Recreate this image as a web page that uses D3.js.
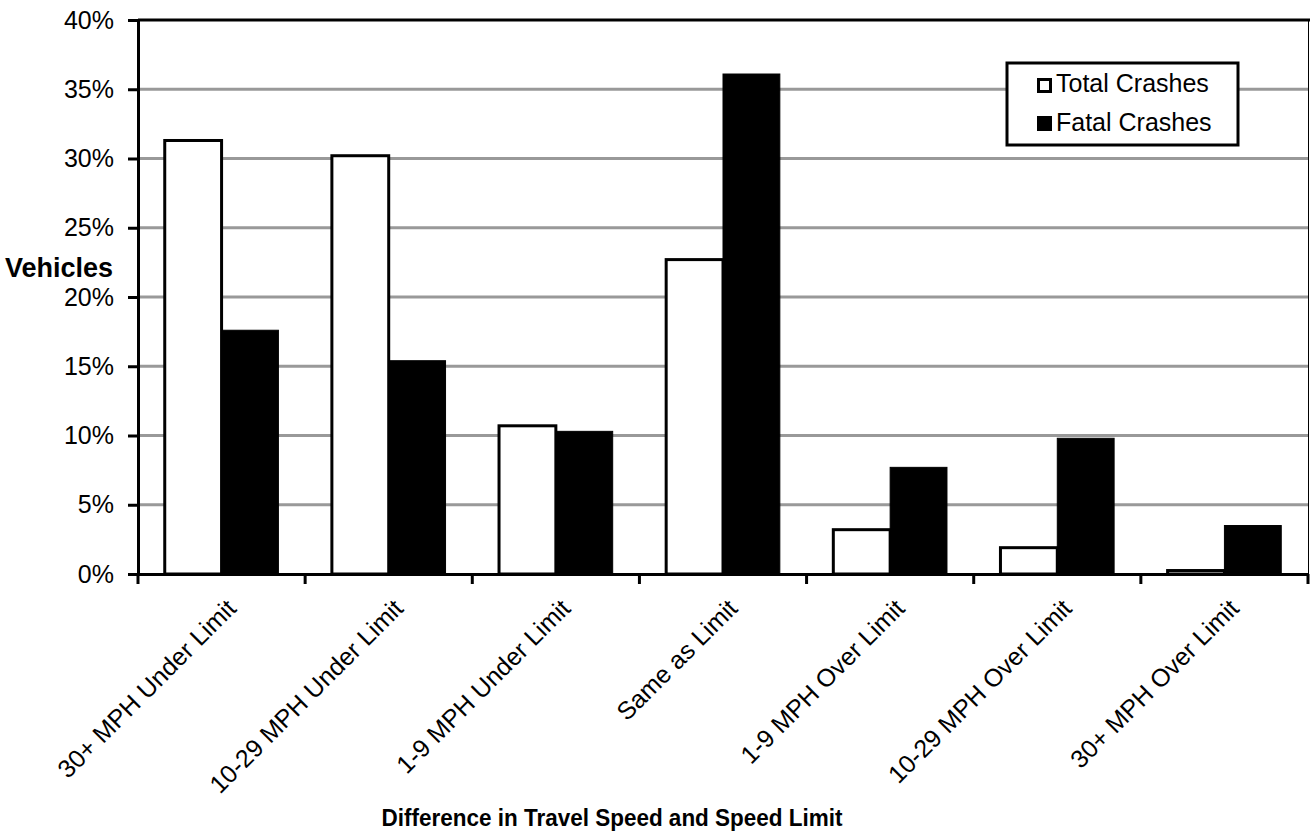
<!DOCTYPE html>
<html><head><meta charset="utf-8">
<script src="https://cdn.jsdelivr.net/npm/d3@7"></script>
<style>body{margin:0;background:#fff;}svg{display:block;font-family:"Liberation Sans",Arial,sans-serif;}</style>
</head><body>
<svg id="c" width="1310" height="837"></svg>
<script>
const categories = ["30+ MPH Under Limit","10-29 MPH Under Limit","1-9 MPH Under Limit","Same as Limit","1-9 MPH Over Limit","10-29 MPH Over Limit","30+ MPH Over Limit"];
const seriesNames = ["Total Crashes","Fatal Crashes"];
const totalCrashes = [31.3, 30.2, 10.7, 22.7, 3.2, 1.9, 0.25];
const fatalCrashes = [17.6, 15.4, 10.3, 36.1, 7.7, 9.8, 3.5];
const yTicks = [0,5,10,15,20,25,30,35,40];
const xTitle = "Difference in Travel Speed and Speed Limit";
const yTitle = "Vehicles";

const svg = d3.select("#c");
const L=138, R=1308, T=20, B=574;
const FS = 25;
const x = d3.scaleBand().domain(categories).range([L,R]).paddingInner(0).paddingOuter(0);
const y = d3.scaleLinear().domain([0,40]).range([B,T]);
const barW = x.bandwidth()*0.34;

// gridlines
svg.append("g").selectAll("line").data(yTicks.filter(d=>d>0&&d<40)).join("line")
  .attr("x1",L).attr("x2",R).attr("y1",d=>y(d)).attr("y2",d=>y(d))
  .attr("stroke","#999").attr("stroke-width",3);

// plot border top/right
svg.append("line").attr("x1",L).attr("x2",1310).attr("y1",T).attr("y2",T).attr("stroke","#000").attr("stroke-width",3);
svg.append("line").attr("x1",R+0.5).attr("x2",R+0.5).attr("y1",T).attr("y2",B).attr("stroke","#000").attr("stroke-width",1);

// bars
const data = categories.map((c,i)=>({c, t: totalCrashes[i], f: fatalCrashes[i]}));
const g = svg.append("g");
g.selectAll("rect.t").data(data).join("rect").attr("class","t")
  .attr("x",d=>x(d.c)+x.bandwidth()/2-barW).attr("width",barW)
  .attr("y",d=>y(d.t)).attr("height",d=>B-y(d.t))
  .attr("fill","#fff").attr("stroke","#000").attr("stroke-width",3);
g.selectAll("rect.f").data(data).join("rect").attr("class","f")
  .attr("x",d=>x(d.c)+x.bandwidth()/2).attr("width",barW)
  .attr("y",d=>y(d.f)).attr("height",d=>B-y(d.f))
  .attr("fill","#000").attr("stroke","#000").attr("stroke-width",1);

// y axis
const ya = svg.append("g").attr("transform",`translate(${L},0)`)
  .call(d3.axisLeft(y).tickValues(yTicks).tickFormat(d=>d+"%").tickSize(10).tickPadding(14));
ya.select(".domain").attr("stroke-width",3);
ya.selectAll(".tick line").attr("stroke-width",3);
ya.selectAll("text").attr("font-size",FS).attr("fill","#000").attr("font-family","Liberation Sans, Arial, sans-serif");

// x axis
const xa = svg.append("g").attr("transform",`translate(0,${B})`)
  .call(d3.axisBottom(x).tickSize(0).tickFormat(""));
xa.select(".domain").attr("stroke-width",3);
// boundary ticks
const bounds = d3.range(categories.length+1).map(i=>L+i*x.bandwidth());
svg.append("g").selectAll("line").data(bounds).join("line")
  .attr("x1",d=>d).attr("x2",d=>d).attr("y1",B).attr("y2",B+10)
  .attr("stroke","#000").attr("stroke-width",3);
// category labels
svg.append("g").selectAll("text").data(categories).join("text")
  .attr("transform",d=>`translate(${x(d)+x.bandwidth()/2+16},${B+36}) rotate(-45)`)
  .attr("text-anchor","end").attr("font-size",FS).attr("fill","#000").text(d=>d);

// titles
svg.append("text").attr("x",612).attr("y",826).attr("text-anchor","middle")
  .attr("font-size",24).attr("font-weight","bold")
  .attr("textLength",461).attr("lengthAdjust","spacingAndGlyphs").text(xTitle);
svg.append("text").attr("x",5).attr("y",277).attr("text-anchor","start")
  .attr("font-size",27).attr("font-weight","bold").text(yTitle);

// legend
const lg = svg.append("g");
lg.append("rect").attr("x",1007).attr("y",63).attr("width",231).attr("height",82)
  .attr("fill","#fff").attr("stroke","#000").attr("stroke-width",3);
seriesNames.forEach((s,i)=>{
  const base = 92 + i*39;
  if(i===0){
    lg.append("rect").attr("x",1038.5).attr("y",base-12.5).attr("width",12).attr("height",12)
      .attr("fill","#fff").attr("stroke","#000").attr("stroke-width",3);
  } else {
    lg.append("rect").attr("x",1037).attr("y",base-15).attr("width",15).attr("height",15).attr("fill","#000");
  }
  lg.append("text").attr("x",1056).attr("y",base).attr("font-size",FS).attr("fill","#000").text(s);
});
</script>
</body></html>
